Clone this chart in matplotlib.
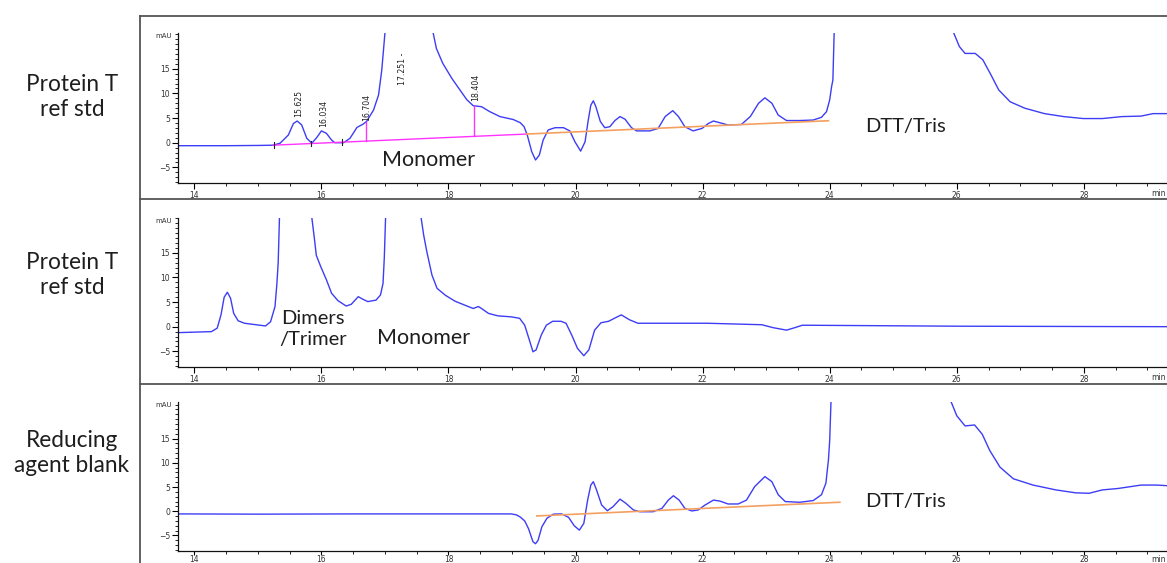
import matplotlib
matplotlib.use("Agg")
import matplotlib.pyplot as plt
from matplotlib.lines import Line2D
from matplotlib.ticker import MultipleLocator

# ---------------- data (time in min, signal in mAU) ----------------
t1 = [13.76, 14.5, 15.0, 15.24, 15.35, 15.48, 15.56, 15.62, 15.69, 15.77, 15.85,
      15.93, 16.0, 16.08, 16.16, 16.21, 16.35, 16.45, 16.56, 16.66, 16.71, 16.82,
      16.9, 16.95, 17.0, 17.02, 17.251, 17.74, 17.76, 17.81, 17.91, 18.05, 18.18,
      18.29, 18.39, 18.52, 18.65, 18.81, 19.02, 19.13, 19.19, 19.24, 19.31, 19.37,
      19.43, 19.49, 19.57, 19.68, 19.81, 19.91, 19.99, 20.08, 20.15, 20.2, 20.24,
      20.28, 20.32, 20.39, 20.46, 20.54, 20.62, 20.70, 20.78, 20.88, 20.96, 21.17,
      21.3, 21.41, 21.53, 21.62, 21.72, 21.85, 21.99, 22.09, 22.17, 22.27, 22.4,
      22.61, 22.75, 22.88, 22.98, 23.09, 23.19, 23.32, 23.53, 23.74, 23.87, 23.95,
      24.0, 24.03, 24.05, 24.07, 24.1, 25.0, 25.93, 25.95, 26.04, 26.13, 26.29,
      26.41, 26.54, 26.66, 26.84, 27.07, 27.38, 27.68, 27.99, 28.29, 28.6, 28.9,
      29.09, 29.4]
y1 = [-0.6, -0.6, -0.55, -0.5, -0.1, 1.56, 3.9, 4.4, 3.6, 0.9, -0.1,
      1.1, 2.4, 1.9, 0.55, 0.0, 0.0, 0.9, 3.1, 3.8, 4.3, 6.6,
      9.7, 14.7, 22.2, 30.0, 250.0, 30.0, 22.2, 19.1, 16.1, 13.1, 10.7,
      8.7, 7.5, 7.3, 6.3, 5.3, 4.7, 4.06, 3.25, 1.56, -1.8, -3.5,
      -2.5, 0.55, 2.6, 3.05, 3.05, 2.4, 0.2, -1.7, 0.2, 4.6, 7.6,
      8.5, 7.3, 4.3, 3.05, 3.25, 4.5, 5.3, 4.75, 3.05, 2.4, 2.4,
      2.9, 5.3, 6.5, 5.3, 3.25, 2.4, 2.9, 3.9, 4.4, 4.05, 3.6,
      3.7, 5.3, 8.0, 9.1, 8.0, 5.6, 4.5, 4.5, 4.6, 5.15, 6.3,
      8.7, 11.4, 12.7, 22.3, 40.0, 300.0, 40.0, 22.3, 19.5, 18.1, 18.1,
      16.8, 13.7, 10.7, 8.3, 7.0, 5.9, 5.3, 4.9, 4.9, 5.3, 5.4,
      5.9, 5.9]

t2 = [13.76, 14.27, 14.36, 14.42, 14.47, 14.52, 14.57, 14.62, 14.69, 14.79, 15.0,
      15.12, 15.2, 15.27, 15.3, 15.32, 15.34, 15.36, 15.6, 15.83, 15.85, 15.89,
      15.92, 15.99, 16.08, 16.16, 16.26, 16.39, 16.47, 16.58, 16.65, 16.73, 16.86,
      16.93, 16.97, 16.99, 17.01, 17.03, 17.3, 17.55, 17.57, 17.61, 17.66, 17.74,
      17.82, 17.95, 18.1, 18.31, 18.39, 18.47, 18.52, 18.63, 18.78, 18.99, 19.12,
      19.2, 19.28, 19.33, 19.38, 19.46, 19.54, 19.64, 19.77, 19.85, 19.94, 20.03,
      20.13, 20.21, 20.3, 20.4, 20.52, 20.61, 20.72, 20.85, 20.98, 22.07, 22.93,
      23.11, 23.32, 23.45, 23.57, 26.04, 29.4]
y2 = [-1.2, -1.0, -0.3, 2.4, 6.0, 7.0, 5.8, 2.7, 1.2, 0.7, 0.35,
      0.15, 1.0, 4.1, 8.8, 13.0, 22.1, 40.0, 200.0, 40.0, 22.1, 17.9,
      14.5, 12.2, 9.5, 6.8, 5.3, 4.2, 4.55, 6.1, 5.6, 5.1, 5.4,
      6.45, 8.8, 14.0, 22.1, 40.0, 400.0, 40.0, 22.1, 18.6, 15.2, 10.5,
      7.8, 6.4, 5.2, 4.1, 3.7, 4.1, 3.7, 2.7, 2.2, 2.0, 1.7,
      0.3, -3.0, -5.1, -4.7, -1.7, 0.3, 1.1, 1.1, 0.7, -1.7, -4.4,
      -5.9, -4.7, -0.7, 0.8, 1.1, 1.7, 2.4, 1.4, 0.7, 0.7, 0.4,
      -0.2, -0.7, -0.2, 0.3, 0.1, 0.0]

t3 = [13.76, 15.0, 16.5, 18.0, 18.99, 19.07, 19.13, 19.2, 19.26, 19.33, 19.37,
      19.41, 19.47, 19.55, 19.65, 19.78, 19.89, 19.98, 20.06, 20.13, 20.19, 20.24,
      20.28, 20.33, 20.41, 20.5, 20.59, 20.7, 20.79, 20.91, 21.01, 21.22, 21.36,
      21.46, 21.54, 21.63, 21.72, 21.83, 21.93, 22.04, 22.17, 22.27, 22.4, 22.56,
      22.69, 22.82, 22.98, 23.09, 23.19, 23.3, 23.53, 23.74, 23.87, 23.94, 23.98,
      24.0, 24.02, 24.05, 25.0, 25.89, 25.91, 26.0, 26.13, 26.28, 26.4, 26.52,
      26.68, 26.89, 27.2, 27.56, 27.87, 28.08, 28.29, 28.54, 28.9, 29.15, 29.4]
y3 = [-0.55, -0.6, -0.55, -0.55, -0.55, -0.75, -1.2, -2.0, -3.6, -6.3, -6.7,
      -6.0, -3.2, -1.45, -0.6, -0.55, -1.25, -3.0, -3.9, -2.5, 2.3, 5.4,
      6.1, 4.4, 1.3, 0.1, 0.95, 2.5, 1.65, 0.27, -0.1, -0.1, 0.6,
      2.3, 3.2, 2.3, 0.6, 0.06, 0.27, 1.3, 2.3, 2.1, 1.5, 1.5,
      2.3, 5.1, 7.15, 6.1, 3.4, 2.0, 1.85, 2.2, 3.4, 5.8, 10.6,
      14.7, 22.6, 40.0, 300.0, 40.0, 22.6, 19.7, 17.6, 17.8, 15.9, 12.5,
      9.1, 6.7, 5.4, 4.4, 3.8, 3.7, 4.4, 4.7, 5.4, 5.4, 5.2]

# integration baselines (time, mAU)
base1_magenta_t = [15.24, 19.23]
base1_magenta_y = [-0.5, 1.76]
base1_orange_t = [19.23, 23.98]
base1_orange_y = [1.76, 4.46]
drop_t = [16.704, 18.404]
drop_top = [4.3, 7.5]
drop_bot = [0.3, 1.35]
marker_t = [15.25, 15.83, 16.32]
marker_y = [-0.5, -0.15, 0.1]
base3_orange_t = [19.39, 24.16]
base3_orange_y = [-0.97, 1.86]

peak_labels = ["15.625", "16.034", "16.704", "17.251 -", "18.404"]
peak_label_t = [15.64, 16.035, 16.715, 17.27, 18.425]
peak_label_y = [5.2, 3.2, 4.5, 11.6, 8.4]

row_labels = ["Protein T\nref std", "Protein T\nref std", "Reducing\nagent blank"]

# ---------------- figure ----------------
W, H = 1167, 563
fig = plt.figure(figsize=(W / 100, H / 100), dpi=100)

BIG = "Lato"
TXT = "#1e1e1e"
TRACE = "#3d3df5"
XMIN, XMAX = 13.748, 29.7
PX_PER_MIN = 63.54
ax_left = 178.3 / W
ax_width = (XMAX - XMIN) * PX_PER_MIN / W

panels = [
    dict(top=32.7, bottom=182.7, ylim=(-8.1, 22.3), t=t1, y=y1, xlen=4, xpad=2),
    dict(top=217.7, bottom=366.7, ylim=(-8.13, 22.15), t=t2, y=y2, xlen=4, xpad=2),
    dict(top=401.7, bottom=550.7, ylim=(-8.14, 22.6), t=t3, y=y3, xlen=3, xpad=0.3),
]

axes = []
for p in panels:
    ax = fig.add_axes([ax_left, 1 - p["bottom"] / H, ax_width, (p["bottom"] - p["top"]) / H])
    ax.plot(p["t"], p["y"], color=TRACE, lw=1.0, solid_joinstyle="round")
    ax.set_xlim(XMIN, XMAX)
    ax.set_ylim(*p["ylim"])
    for s in ("top", "right"):
        ax.spines[s].set_visible(False)
    for s in ("left", "bottom"):
        ax.spines[s].set_linewidth(0.9)
        ax.spines[s].set_color("#111111")
    ax.xaxis.set_major_locator(MultipleLocator(2))
    ax.xaxis.set_minor_locator(MultipleLocator(0.5))
    ax.yaxis.set_minor_locator(MultipleLocator(1))
    ax.set_yticks([-5, 0, 5, 10, 15])
    ax.tick_params(axis="y", which="major", direction="out", length=4, width=0.8,
                   labelsize=5.5, labelcolor="#333333", pad=2)
    ax.tick_params(axis="x", which="major", direction="out", length=p["xlen"], width=0.8,
                   labelsize=5.5, labelcolor="#333333", pad=p["xpad"])
    ax.tick_params(axis="both", which="minor", direction="out", length=2, width=0.6)
    ax.patch.set_alpha(0)
    ax.text(-0.006, 0.975, "mAU", transform=ax.transAxes, ha="right", va="center",
            fontsize=5, color="#333333")
    axes.append(ax)
    # axis unit at the far right end of the time axis
    fig.text(1166 / W, 1 - (p["bottom"] + p["xlen"] + p["xpad"] + 0.5) / H, "min",
             ha="right", va="top", fontsize=5.5, color="#333333")

ax1, ax2, ax3 = axes

# panel 1 annotations
ax1.plot(base1_magenta_t, base1_magenta_y, color="#ff33ff", lw=1.0)
ax1.plot(base1_orange_t, base1_orange_y, color="#f4a060", lw=1.2)
for t, top, bot in zip(drop_t, drop_top, drop_bot):
    ax1.plot([t, t], [bot, top], color="#ff33ff", lw=1.0)
for t, yv in zip(marker_t, marker_y):
    ax1.plot([t, t], [yv - 0.6, yv + 0.6], color="#222222", lw=0.8)
for lab, t, yv in zip(peak_labels, peak_label_t, peak_label_y):
    ax1.text(t, yv, lab, rotation=90, ha="center", va="bottom", fontsize=5.6,
             color="#222222", family="DejaVu Sans")
ax1.text(17.68, -3.5, "Monomer", ha="center", va="center", fontsize=15.5,
         color=TXT, family=BIG)
ax1.text(25.2, 3.3, "DTT/Tris", ha="center", va="center", fontsize=14.5,
         color=TXT, family=BIG)

# panel 2 annotations
ax2.text(15.87, -0.4, "Dimers\n/Trimer", ha="center", va="center", fontsize=14.5,
         color=TXT, family=BIG, linespacing=1.3)
ax2.text(17.61, -2.2, "Monomer", ha="center", va="center", fontsize=15.5,
         color=TXT, family=BIG)

# panel 3 annotations
ax3.plot(base3_orange_t, base3_orange_y, color="#f4a060", lw=1.2)
ax3.text(25.2, 2.0, "DTT/Tris", ha="center", va="center", fontsize=14.5,
         color=TXT, family=BIG)

# row labels on the left
for lab, yc in zip(row_labels, [97, 275, 453]):
    fig.text(72 / W, 1 - yc / H, lab, ha="center", va="center", fontsize=16.3,
             color=TXT, family=BIG, linespacing=1.25)

# outer frame / separators
frame_col = "#555555"
def fline(x0, y0, x1, y1):
    fig.add_artist(Line2D([x0 / W, x1 / W], [1 - y0 / H, 1 - y1 / H], color=frame_col, lw=1.3))

fline(139.5, 15.5, 139.5, H)
fline(139.5, 15.5, W, 15.5)
fline(139.5, 199, W, 199)
fline(139.5, 384, W, 384)

fig.savefig("out.png", dpi=100)
